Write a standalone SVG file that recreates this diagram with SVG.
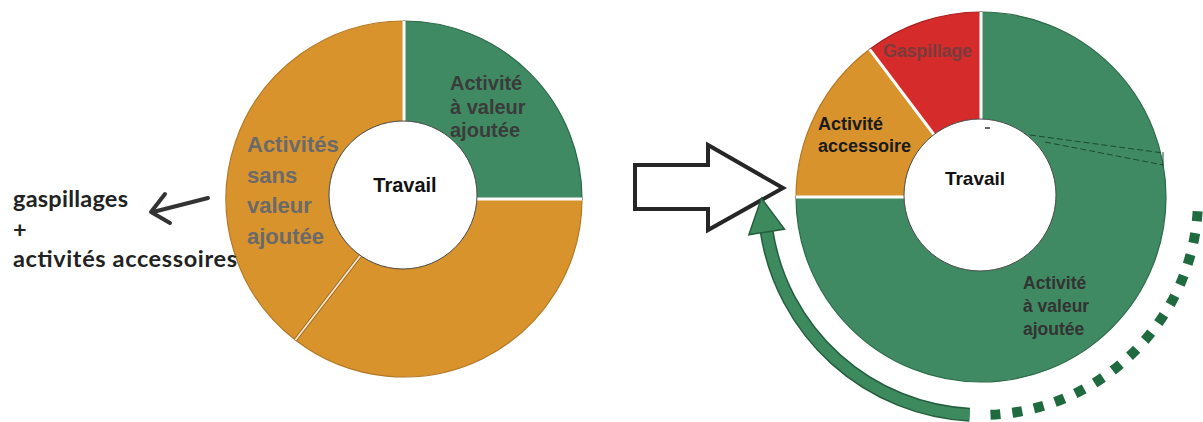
<svg xmlns="http://www.w3.org/2000/svg" width="1203" height="422" viewBox="0 0 1203 422">
  <style>
    .lbl { font-family: "Liberation Sans", Arial, sans-serif; font-weight: bold; }
    .side { font-family: Lato, "Open Sans", sans-serif; font-weight: bold; fill: #222; font-size: 23.5px; }
    .sep { stroke: #ffffff; stroke-width: 3; }
    .hole { fill: #ffffff; stroke: #4a4a4a; stroke-width: 1; }
    .green { fill: #3f8a62; stroke: #2a6a46; stroke-width: 1.2; }
    .orange { fill: #d8932d; stroke: #b47823; stroke-width: 1.2; }
    .red { fill: #d52b2b; stroke: #a82020; stroke-width: 1.2; }
  </style>

  <rect width="1203" height="422" fill="#ffffff"/>

  <!-- Before: work split into value-added and non-value-added -->
  <g id="donut-before">
    <path class="green" d="M404,199 L404,21 A178,178 0 0 1 582,199 Z"/>
    <path class="orange" d="M404,199 L582,199 A178,178 0 0 1 295.4,340 Z"/>
    <path class="orange" d="M404,199 L295.4,340 A178,178 0 0 1 404,21 Z"/>
    <line class="sep" x1="404" y1="199" x2="404" y2="21" stroke-width="2.5"/>
    <line class="sep" x1="404" y1="199" x2="582" y2="199" stroke-width="2.5"/>
    <line x1="404" y1="199" x2="295.4" y2="340" stroke="#9a6420" stroke-width="3.5"/>
    <line x1="404" y1="199" x2="295.4" y2="340" stroke="#f6e8cc" stroke-width="1.8"/>
    <circle class="hole" cx="403" cy="195" r="74"/>
    <text class="lbl" x="405" y="192" font-size="20" text-anchor="middle" fill="#111">Travail</text>
    <g class="lbl" font-size="20" fill="#3b3b3b">
      <text x="450" y="90">Activité</text>
      <text x="450" y="113.5">à valeur</text>
      <text x="450" y="137">ajoutée</text>
    </g>
    <g class="lbl" font-size="22" fill="#6a6a6a">
      <text x="247" y="152">Activités</text>
      <text x="247" y="183">sans</text>
      <text x="247" y="213">valeur</text>
      <text x="247" y="244">ajoutée</text>
    </g>
  </g>

  <!-- Side note on what the non-value-added part contains -->
  <g id="note-side">
    <text class="side" x="13" y="207" textLength="115">gaspillages</text>
    <text class="side" x="13" y="238">+</text>
    <text class="side" x="13" y="267" textLength="224">activités accessoires</text>
  </g>

  <!-- After: value-added share grows, waste and support work shrink -->
  <g id="donut-after">
    <path class="green" d="M981,197 L981,12 A185,185 0 1 1 796,197 Z"/>
    <path class="orange" d="M981,197 L796,197 A185,185 0 0 1 869.7,49.3 Z"/>
    <path class="red" d="M981,197 L869.7,49.3 A185,185 0 0 1 981,12 Z"/>
    <line class="sep" x1="981" y1="197" x2="981" y2="12"/>
    <line class="sep" x1="981" y1="197" x2="796" y2="197"/>
    <line class="sep" x1="981" y1="197" x2="869.7" y2="49.3"/>
    <g stroke="#1d4a31" stroke-width="1" stroke-dasharray="6 3" fill="none">
      <line x1="1030" y1="135" x2="1163" y2="153"/>
      <line x1="1045" y1="142" x2="1163" y2="165"/>
    </g>
    <line x1="1163" y1="152" x2="1163" y2="166" stroke="#1d4a31" stroke-width="1"/>
    <circle class="hole" cx="980" cy="195" r="76" stroke="#2e5a42"/>
    <line x1="985" y1="128" x2="990" y2="128" stroke="#333" stroke-width="1.5"/>
    <text class="lbl" x="975" y="185" font-size="19" text-anchor="middle" fill="#111">Travail</text>
    <text class="lbl" x="883" y="57" font-size="18" fill="#7a3b3b" textLength="89">Gaspillage</text>
    <g class="lbl" font-size="18" fill="#1a1a1a">
      <text x="818" y="130">Activité</text>
      <text x="818" y="152">accessoire</text>
    </g>
    <g class="lbl" font-size="17.5" fill="#333">
      <text x="1023" y="289">Activité</text>
      <text x="1023" y="312">à valeur</text>
      <text x="1023" y="335">ajoutée</text>
    </g>
  </g>

  <g id="connectors">
    <!-- hollow transition arrow -->
    <polygon points="635,165 708,165 708,145 783,188 708,230 708,209 635,209"
             fill="#ffffff" stroke="#262626" stroke-width="4" stroke-linejoin="miter"/>
    <!-- pointer toward the side note -->
    <line x1="208" y1="198" x2="153" y2="212" stroke="#333" stroke-width="4" stroke-linecap="round"/>
    <polyline points="165,194 151,212 170,223" fill="none" stroke="#333" stroke-width="4"
              stroke-linecap="round" stroke-linejoin="round"/>
    <!-- curved green arrow -->
    <path d="M969.6,414.7 A217,217 0 0 1 766.7,231.9" fill="none" stroke="#245f3d" stroke-width="14"/>
    <path d="M969.6,414.7 A217,217 0 0 1 766.7,231.9" fill="none" stroke="#3e8a5f" stroke-width="11"/>
    <polygon points="748.9,234.7 761.4,198.3 784.5,229.1" fill="#3e8a5f" stroke="#245f3d"
             stroke-width="1.5" stroke-linejoin="miter"/>
    <!-- dotted continuation -->
    <path d="M990.5,414.8 A217,217 0 0 0 1198,201.8" fill="none" stroke="#1f6a3f"
          stroke-width="10" stroke-dasharray="10 12"/>
  </g>
</svg>
